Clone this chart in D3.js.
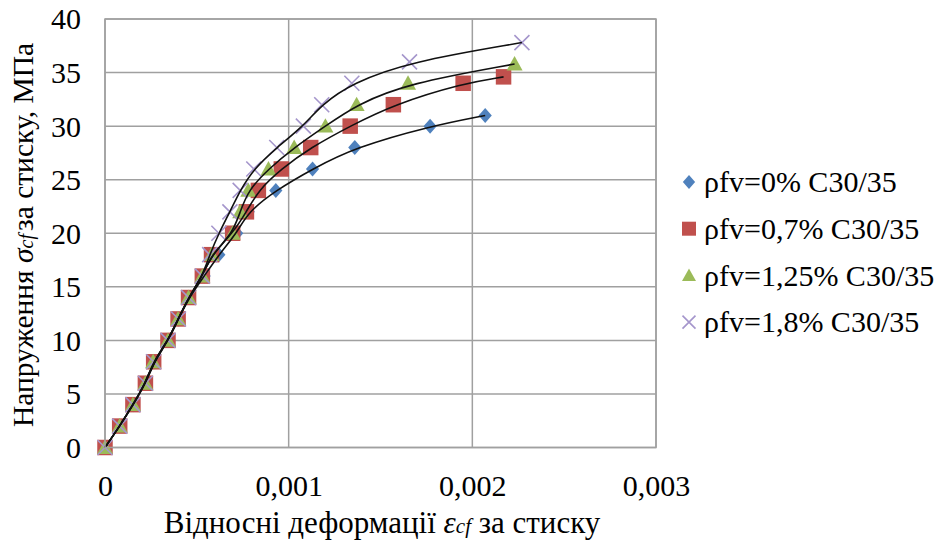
<!DOCTYPE html>
<html><head><meta charset="utf-8">
<script src="https://cdn.jsdelivr.net/npm/d3@7/dist/d3.min.js"></script>
<style>body{margin:0;background:#fff}</style>
</head><body><svg id="c" width="940" height="545" font-family="Liberation Serif, serif"></svg>
<script>
const xTicks = [0, 0.001, 0.002, 0.003];
const xTickLabels = ["0", "0,001", "0,002", "0,003"];
const yTicks = [0, 5, 10, 15, 20, 25, 30, 35, 40];
const seriesNames = ["ρfv=0% C30/35", "ρfv=0,7% C30/35", "ρfv=1,25% C30/35", "ρfv=1,8% C30/35"];
const strain0 = [0, 0.00008, 0.000155, 0.000222, 0.000268, 0.000345, 0.0004, 0.000458, 0.00054, 0.00062, 0.000717, 0.00078, 0.00093, 0.00113, 0.00136, 0.00177, 0.00207];
const stress0 = [0, 2, 4, 6, 8, 10, 12, 14, 16, 18, 20, 22, 24, 26, 28, 30, 31];
const strain1 = [0, 0.00008, 0.000152, 0.00022, 0.000265, 0.000343, 0.000398, 0.000455, 0.00053, 0.00058, 0.000695, 0.00077, 0.000835, 0.00096, 0.00112, 0.001335, 0.00157, 0.00195, 0.00217];
const stress1 = [0, 2, 4, 6, 8, 10, 12, 14, 16, 18, 20, 22, 24, 26, 28, 30, 32, 34, 34.6];
const strain2 = [0, 0.00008, 0.000152, 0.00022, 0.000262, 0.000343, 0.000398, 0.000455, 0.00053, 0.00058, 0.000695, 0.000736, 0.00078, 0.00089, 0.00103, 0.0012, 0.00137, 0.00165, 0.00223];
const stress2 = [0, 2, 4, 6, 8, 10, 12, 14, 16, 18, 20, 22, 24, 26, 28, 30, 32, 34, 35.8];
const strain3 = [0, 0.00008, 0.000152, 0.00022, 0.000265, 0.000343, 0.0004, 0.000455, 0.00053, 0.00057, 0.00062, 0.00068, 0.000736, 0.00081, 0.000935, 0.00108, 0.00118, 0.001344, 0.001658, 0.00227];
const stress3 = [0, 2, 4, 6, 8, 10, 12, 14, 16, 18, 20, 22, 24, 26, 28, 30, 32, 34, 36, 37.8];

const series = [
  {name: seriesNames[0], xs: strain0, ys: stress0, color: "#4F81BD", sym: "diamond"},
  {name: seriesNames[1], xs: strain1, ys: stress1, color: "#C0504D", sym: "square"},
  {name: seriesNames[2], xs: strain2, ys: stress2, color: "#9BBB59", sym: "triangle"},
  {name: seriesNames[3], xs: strain3, ys: stress3, color: "#A596CC", sym: "cross"}
];

const FONT = '"Liberation Serif", "Times New Roman", serif';
const L = 105, R = 656, T = 19, B = 447.5;
const x = d3.scaleLinear().domain([0, 0.003]).range([L, R]);
const y = d3.scaleLinear().domain([0, 40]).range([B, T]);
const svg = d3.select("#c");
const grid = "#a0a0a0";

// gridlines
svg.append("g").selectAll("line").data(yTicks).join("line")
  .attr("x1", L).attr("x2", R).attr("y1", d => y(d)).attr("y2", d => y(d))
  .attr("stroke", grid).attr("stroke-width", 1.5);
svg.append("g").selectAll("line").data(xTicks).join("line")
  .attr("x1", d => x(d)).attr("x2", d => x(d)).attr("y1", T).attr("y2", B)
  .attr("stroke", grid).attr("stroke-width", 1.5);

// axes labels via d3 axes
const yAxis = svg.append("g").attr("transform", `translate(${L},0)`)
  .call(d3.axisLeft(y).tickValues(yTicks).tickSize(0).tickPadding(24));
yAxis.attr("font-family", null);
yAxis.select(".domain").remove();
yAxis.selectAll("text").attr("font-size", 30).attr("dy", "0.33em").attr("fill", "#000")
  .style("font-family", FONT);
const xAxis = svg.append("g").attr("transform", `translate(0,${B})`)
  .call(d3.axisBottom(x).tickValues(xTicks).tickFormat((d, i) => xTickLabels[i]).tickSize(0).tickPadding(27));
xAxis.attr("font-family", null);
xAxis.select(".domain").remove();
xAxis.selectAll("text").attr("font-size", 30).attr("fill", "#000")
  .style("font-family", FONT);

// markers
function marker(g, sym, color, size) {
  const h = size / 2;
  if (sym === "cross") {
    g.append("path").attr("d", `M${-h},${-h}L${h},${h}M${-h},${h}L${h},${-h}`)
      .attr("stroke", color).attr("stroke-width", 1.6).attr("fill", "none");
  } else if (sym === "diamond") {
    g.append("path").attr("d", `M0,${-h}L${h * 0.88},0L0,${h}L${-h * 0.88},0Z`).attr("fill", color);
  } else if (sym === "square") {
    g.append("rect").attr("x", -h).attr("y", -h).attr("width", size).attr("height", size).attr("fill", color);
  } else {
    g.append("path").attr("d", `M0,${-h}L${h},${h * 0.8}L${-h},${h * 0.8}Z`).attr("fill", color);
  }
}
const sizes = {diamond: 15, square: 15.5, triangle: 16, cross: 15};

series.forEach(sr => {
  const g = svg.append("g");
  sr.xs.forEach((xv, i) => {
    const m = g.append("g").attr("transform", `translate(${x(xv)},${y(sr.ys[i])})`);
    marker(m, sr.sym, sr.color, sizes[sr.sym]);
  });
});

// smoothed trend lines on top
const line = d3.line().x(d => x(d[0])).y(d => y(d[1])).curve(d3.curveBasis);
series.forEach(sr => {
  const pts = sr.xs.map((xv, i) => [xv, sr.ys[i]]);
  svg.append("path").datum(pts).attr("d", line)
    .attr("fill", "none").attr("stroke", "#111").attr("stroke-width", 1.6);
});

// plot border
svg.append("rect").attr("x", L).attr("y", T).attr("width", R - L).attr("height", B - T)
  .attr("fill", "none").attr("stroke", grid).attr("stroke-width", 1.5);

// legend
const lg = svg.append("g");
series.forEach((sr, i) => {
  const cy = 182 + i * 46.7;
  const m = lg.append("g").attr("transform", `translate(689,${cy})`);
  marker(m, sr.sym, sr.color, sr.sym === "cross" ? 13 : 14);
  lg.append("text").attr("x", 704).attr("y", cy).attr("dy", "0.34em")
    .attr("font-size", 30).style("font-family", FONT).text(sr.name);
});

// x title
const xt = svg.append("text").attr("x", 382).attr("y", 533).attr("text-anchor", "middle")
  .attr("font-size", 31).style("font-family", FONT);
xt.append("tspan").text("Відносні деформації  ");
xt.append("tspan").attr("font-style", "italic").text("ε");
xt.append("tspan").attr("font-style", "italic").attr("font-size", 21).text("cf");
xt.append("tspan").text(" за стиску");

// y title
const yt = svg.append("text").attr("transform", "translate(33,235) rotate(-90)")
  .attr("text-anchor", "middle").attr("font-size", 29.5).style("font-family", FONT);
yt.append("tspan").text("Напруження ");
yt.append("tspan").attr("font-style", "italic").text("σ");
yt.append("tspan").attr("font-style", "italic").attr("font-size", 20).text("cf");
yt.append("tspan").attr("font-size", 12).text(" ");
yt.append("tspan").text("за стиску, МПа");
</script></body></html>
